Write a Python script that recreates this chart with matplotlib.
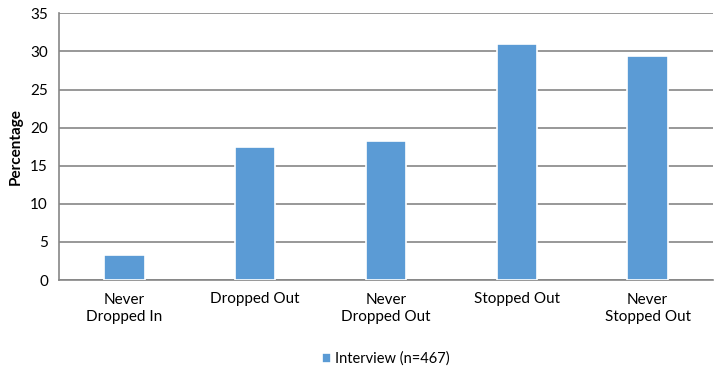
import matplotlib.pyplot as plt
import numpy as np

categories = ["Never\nDropped In", "Dropped Out", "Never\nDropped Out", "Stopped Out", "Never\nStopped Out"]
interview = [3.3, 17.5, 18.2, 31.0, 29.4]
series_label = "Interview (n=467)"

plt.rcParams['font.family'] = ['Lato', 'DejaVu Sans']

fig = plt.figure(figsize=(7.2, 3.74), dpi=100)
ax = fig.add_axes([59 / 720, 1 - 280 / 374, (713 - 59) / 720, (280 - 13.3) / 374])

x = np.arange(len(categories))
ax.bar(x, interview, width=0.31, color="#5b9bd5", edgecolor="white", linewidth=1.2,
       label=series_label, zorder=3)

ax.set_xlim(-0.5, len(categories) - 0.5)
ax.set_ylim(0, 35)
ax.set_yticks(np.arange(0, 36, 5))
ax.yaxis.grid(True, color="#868686", linewidth=1.2, zorder=0)
ax.set_axisbelow(True)

for s in ["top", "right"]:
    ax.spines[s].set_visible(False)
for s in ["left", "bottom"]:
    ax.spines[s].set_color("#868686")
    ax.spines[s].set_linewidth(1.2)

ax.tick_params(axis="both", length=0, labelsize=11, colors="black")
ax.tick_params(axis="y", pad=8)
ax.tick_params(axis="x", pad=9)
ax.set_xticks(x)
ax.set_xticklabels(categories, va="top", linespacing=1.3)

ax.set_ylabel("Percentage", fontsize=11, fontweight="bold", labelpad=5)

ax.legend(loc="upper center", bbox_to_anchor=(0.5, -0.22), frameon=False,
          fontsize=10.5, handlelength=0.6, handleheight=0.6, handletextpad=0.3)

fig.savefig("out.png", dpi=100)
